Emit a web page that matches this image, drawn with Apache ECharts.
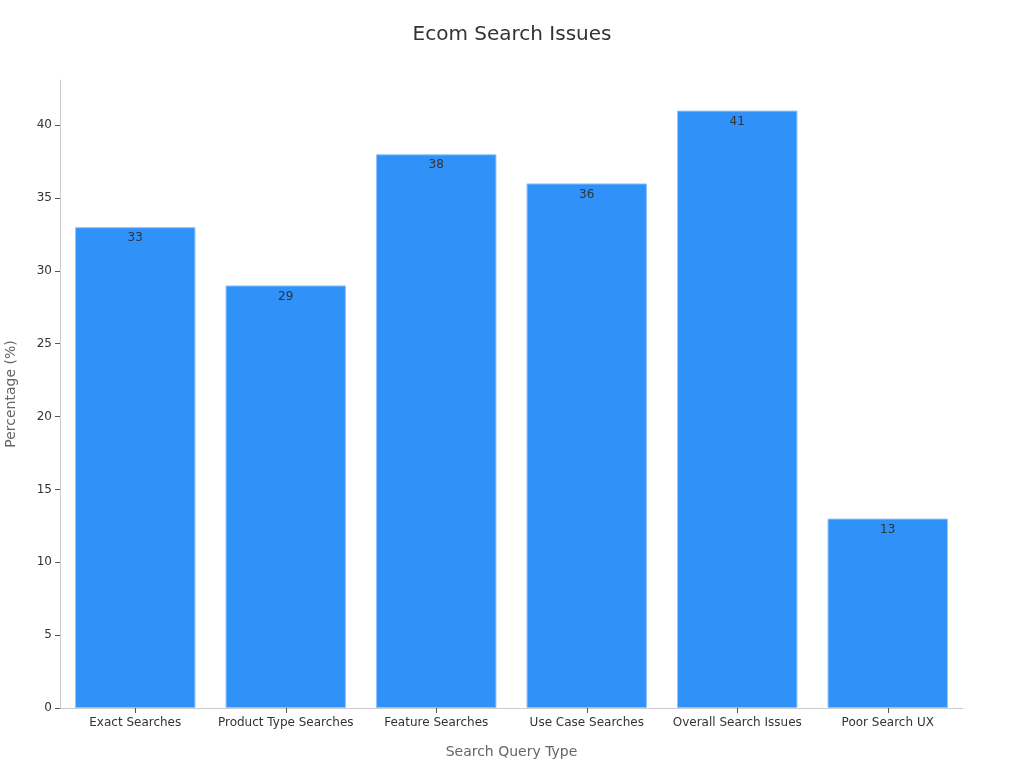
<!DOCTYPE html>
<html>
<head>
<meta charset="utf-8">
<script src="https://cdn.jsdelivr.net/npm/echarts@6/dist/echarts.min.js"></script>
<style>html,body{margin:0;padding:0;background:#fff}#c{width:1024px;height:768px}</style>
</head>
<body>
<div id="c"></div>
<script>
const categories = ["Exact Searches", "Product Type Searches", "Feature Searches", "Use Case Searches", "Overall Search Issues", "Poor Search UX"];
const values = [33, 29, 38, 36, 41, 13];
const yTicks = [0, 5, 10, 15, 20, 25, 30, 35, 40];

const chart = echarts.init(document.getElementById('c'));
chart.setOption({
  backgroundColor: '#fff',
  textStyle: { fontFamily: 'DejaVu Sans' },
  title: {
    text: 'Ecom Search Issues', left: 'center', top: 20,
    textStyle: { fontSize: 20, fontWeight: 'normal', color: '#333', fontFamily: 'DejaVu Sans' }
  },
  grid: { left: 60, right: 61, top: 80, bottom: 60, containLabel: false, outerBoundsMode: 'none' },
  xAxis: {
    type: 'category', data: categories,
    name: 'Search Query Type', nameLocation: 'middle', nameGap: 37,
    nameTextStyle: { fontSize: 14, color: '#666' },
    axisLine: { show: true, lineStyle: { color: '#ccc' } },
    axisTick: { show: true, alignWithLabel: true, interval: 0, lineStyle: { color: '#555', width: 1 }, length: 5 },
    axisLabel: { fontSize: 12, color: '#333', margin: 9, interval: 0 }
  },
  yAxis: {
    type: 'value', min: 0, max: 43.1, interval: 5,
    name: 'Percentage (%)', nameLocation: 'middle', nameGap: 42,
    nameTextStyle: { fontSize: 14, color: '#666' },
    axisLine: { show: true, lineStyle: { color: '#ccc' } },
    axisTick: { show: true, length: 5, lineStyle: { color: '#555' }, customValues: yTicks },
    axisLabel: { fontSize: 12, color: '#333', margin: 8, customValues: yTicks },
    splitLine: { show: false }
  },
  series: [{
    type: 'bar', data: values, barWidth: '80%',
    itemStyle: { color: '#3092f8', borderColor: '#8cc4fb', borderWidth: 1 },
    label: { show: true, position: 'insideTop', distance: 5, fontSize: 12, color: '#333' }
  }]
});
</script>
</body>
</html>
